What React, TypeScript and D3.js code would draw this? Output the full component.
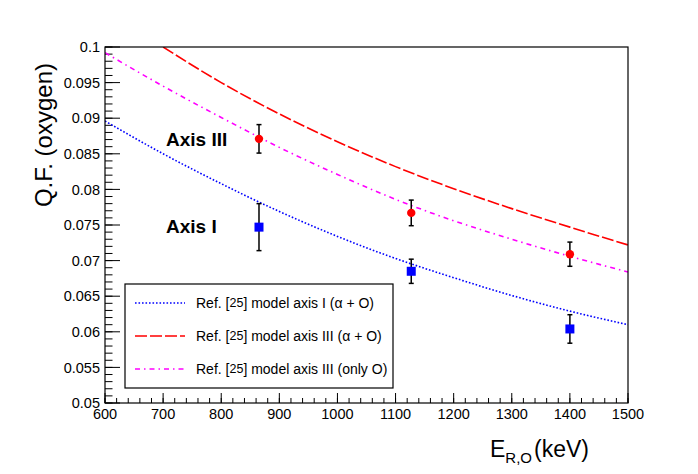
import * as d3 from "d3";

// model curves, sampled every 100 keV
const energies = [600, 700, 800, 900, 1000, 1100, 1200, 1300, 1400, 1500];
const modelAxisI = [0.0896, 0.085, 0.0808, 0.0769, 0.0734, 0.0703, 0.0676, 0.0651, 0.0629, 0.061];
const modelAxisIIIOnlyO = [0.0992, 0.0945, 0.0901, 0.0859, 0.0821, 0.0786, 0.0756, 0.073, 0.0706, 0.0684];
const energiesAxisIII = [700, 800, 900, 1000, 1100, 1200, 1300, 1400, 1500];
const modelAxisIII = [0.1, 0.095, 0.0906, 0.0867, 0.0832, 0.0801, 0.0773, 0.0747, 0.0722];

// measured points
const measEnergies = [865, 1127, 1400];
const qfAxisIII = [0.0871, 0.0767, 0.0709];
const errAxisIII = [0.002, 0.0018, 0.0017];
const qfAxisI = [0.0747, 0.0685, 0.0604];
const errAxisI = [0.0033, 0.0017, 0.002];

const xTickLabels = ["600", "700", "800", "900", "1000", "1100", "1200", "1300", "1400", "1500"];
const yTickLabels = ["0.05", "0.055", "0.06", "0.065", "0.07", "0.075", "0.08", "0.085", "0.09", "0.095", "0.1"];

const W = 698;
const H = 474;
const font = "'Liberation Sans', Arial, Helvetica, sans-serif";

const x = d3.scaleLinear().domain([600, 1500]).range([105, 628]);
const y = d3.scaleLinear().domain([0.05, 0.1]).range([403, 47]);

type Pt = [number, number];
const line = d3
  .line<Pt>()
  .x((d) => x(d[0]))
  .y((d) => y(d[1]))
  .curve(d3.curveMonotoneX);

const zip = (xs: number[], ys: number[]): Pt[] => xs.map((e, i) => [e, ys[i]]);

const curves = [
  { data: zip(energies, modelAxisI), color: "#0000ff", dash: "1.6 1.9", label: "model axis I (\u03b1 + O)" },
  { data: zip(energiesAxisIII, modelAxisIII), color: "#ff0000", dash: "12 3", label: "model axis III (\u03b1 + O)" },
  { data: zip(energies, modelAxisIIIOnlyO), color: "#ff00ff", dash: "5 4 1.5 4", label: "model axis III (only O)" },
];

const App = () => {
  const xMinor = x.ticks(45);
  const yMinor = y.ticks(50);
  const legendRows = [303, 336, 369];

  return (
    <div style={{ position: "absolute", left: 0, top: 0 }}>
      <svg width={W} height={H} style={{ display: "block", fontFamily: font }}>
        <rect width={W} height={H} fill="#fff" />
        <defs>
          <clipPath id="plot">
            <rect x={105} y={47} width={523} height={356} />
          </clipPath>
        </defs>

        {/* minor + major ticks */}
        {yMinor.map((v) => (
          <line key={"ym" + v} x1={105} x2={112.5} y1={y(v)} y2={y(v)} stroke="#000" />
        ))}
        {yTickLabels.map((t) => (
          <g key={"y" + t}>
            <line x1={105} x2={120} y1={y(+t)} y2={y(+t)} stroke="#000" />
            <text x={100} y={y(+t)} dy="0.36em" textAnchor="end" fontSize={14.5}>
              {t}
            </text>
          </g>
        ))}
        {xMinor.map((v) => (
          <line key={"xm" + v} x1={x(v)} x2={x(v)} y1={403} y2={398} stroke="#000" />
        ))}
        {xTickLabels.map((t) => (
          <g key={"x" + t}>
            <line x1={x(+t)} x2={x(+t)} y1={403} y2={393} stroke="#000" />
            <text x={x(+t)} y={418.5} textAnchor="middle" fontSize={14.5}>
              {t}
            </text>
          </g>
        ))}

        {/* model curves */}
        <g clipPath="url(#plot)">
          {curves.map((c) => (
            <path
              key={c.label}
              d={line(c.data) ?? ""}
              fill="none"
              stroke={c.color}
              strokeWidth={1.6}
              strokeDasharray={c.dash}
            />
          ))}
        </g>

        {/* measured points with errors */}
        {measEnergies.map((e, i) => (
          <g key={"m" + e} stroke="#000" strokeWidth={1.5}>
            <line x1={x(e)} x2={x(e)} y1={y(qfAxisIII[i] - errAxisIII[i])} y2={y(qfAxisIII[i] + errAxisIII[i])} />
            <line x1={x(e) - 2.5} x2={x(e) + 2.5} y1={y(qfAxisIII[i] - errAxisIII[i])} y2={y(qfAxisIII[i] - errAxisIII[i])} />
            <line x1={x(e) - 2.5} x2={x(e) + 2.5} y1={y(qfAxisIII[i] + errAxisIII[i])} y2={y(qfAxisIII[i] + errAxisIII[i])} />
            <line x1={x(e)} x2={x(e)} y1={y(qfAxisI[i] - errAxisI[i])} y2={y(qfAxisI[i] + errAxisI[i])} />
            <line x1={x(e) - 2.5} x2={x(e) + 2.5} y1={y(qfAxisI[i] - errAxisI[i])} y2={y(qfAxisI[i] - errAxisI[i])} />
            <line x1={x(e) - 2.5} x2={x(e) + 2.5} y1={y(qfAxisI[i] + errAxisI[i])} y2={y(qfAxisI[i] + errAxisI[i])} />
            <circle cx={x(e)} cy={y(qfAxisIII[i])} r={4.2} fill="#ff0000" stroke="none" />
            <rect x={x(e) - 4.5} y={y(qfAxisI[i]) - 4.5} width={9} height={9} fill="#0000ff" stroke="none" />
          </g>
        ))}

        {/* frame */}
        <rect x={105} y={47} width={523} height={356} fill="none" stroke="#000" strokeWidth={1.2} />

        <text x={166} y={146} fontSize={19} fontWeight="bold">
          Axis III
        </text>
        <text x={166} y={232.5} fontSize={19} fontWeight="bold">
          Axis I
        </text>

        {/* legend */}
        <rect x={125} y={284} width={268} height={104} fill="#fff" stroke="#000" strokeWidth={1.2} />
        {curves.map((c, i) => (
          <g key={"lg" + c.label}>
            <line
              x1={135}
              x2={185}
              y1={legendRows[i]}
              y2={legendRows[i]}
              stroke={c.color}
              strokeWidth={1.6}
              strokeDasharray={c.dash}
            />
            <text x={196} y={legendRows[i]} dy="0.36em" fontSize={14}>
              Ref. [
              <tspan fontSize={12.5} dy={-1}>
                25
              </tspan>
              <tspan dy={1}>] {c.label}</tspan>
            </text>
          </g>
        ))}

        {/* axis titles */}
        <text transform="translate(52,63) rotate(-90)" textAnchor="end" fontSize={24}>
          Q.F. (oxygen)
        </text>
        <text x={490} y={457} fontSize={23}>
          E
          <tspan fontSize={15} dy={6}>
            R,O
          </tspan>
          <tspan dy={-6} dx={2}>
            (keV)
          </tspan>
        </text>
      </svg>
    </div>
  );
};

export default App;
